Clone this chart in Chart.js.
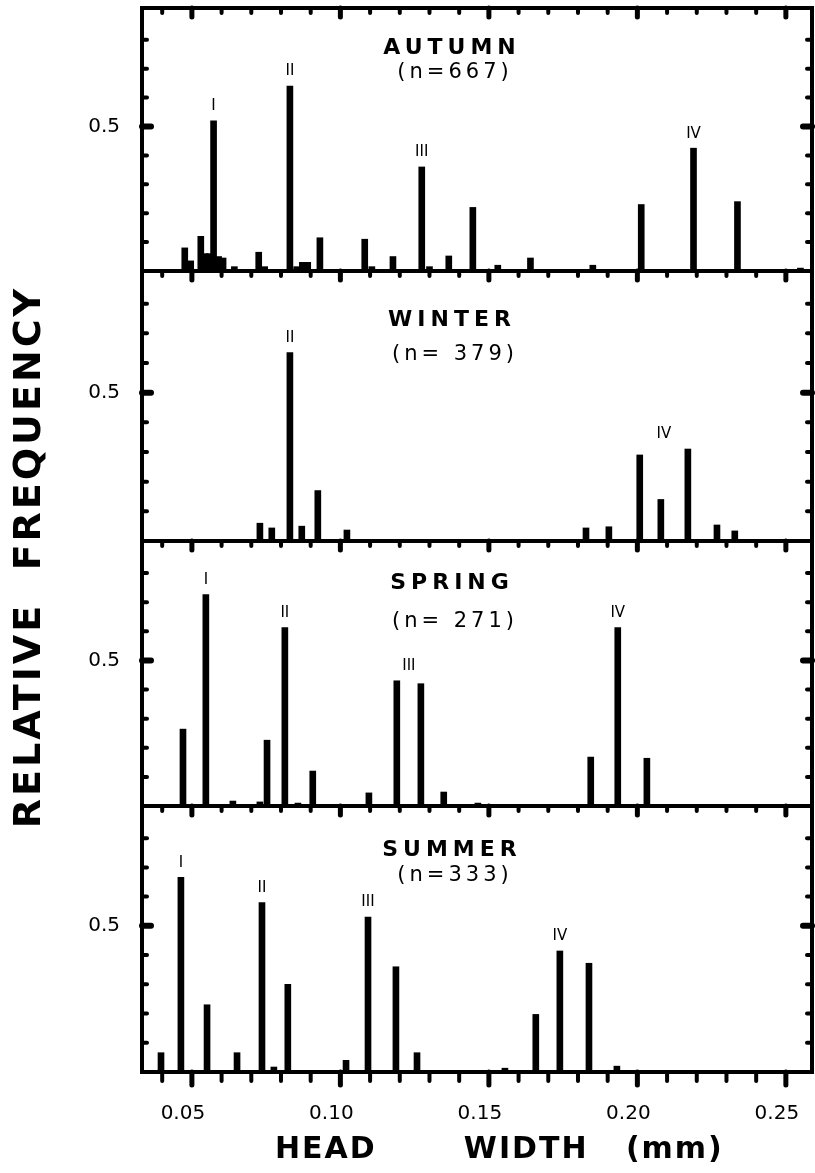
<!DOCTYPE html>
<html>
<head>
<meta charset="utf-8">
<script src="https://cdn.jsdelivr.net/npm/chart.js@4/dist/chart.umd.min.js"></script>
<style>
html,body{margin:0;padding:0;background:#fff;}
#wrap{position:relative;width:815px;height:1173px;overflow:hidden;background:#fff;}
#wrap canvas{position:absolute;left:0;top:0;}
</style>
</head>
<body>
<div id="wrap">
<canvas id="c0" width="815" height="1173"></canvas>
<canvas id="c1" width="815" height="1173"></canvas>
<canvas id="c2" width="815" height="1173"></canvas>
<canvas id="c3" width="815" height="1173"></canvas>
</div>
<script>
// ---------------- DATA ----------------
const seasonNames = ['AUTUMN', 'WINTER', 'SPRING', 'SUMMER'];
const sampleSizes = ['(n=667)', '(n= 379)', '(n= 271)', '(n=333)'];

const autumnWidths = [0.0476, 0.0496, 0.0530, 0.0545, 0.0558, 0.0573, 0.0590, 0.0605, 0.0643, 0.0725, 0.0745, 0.0830, 0.0853, 0.0872, 0.0890, 0.0931, 0.1082, 0.1106, 0.1177, 0.1274, 0.1300, 0.1365, 0.1446, 0.1530, 0.1640, 0.1850, 0.2013, 0.2189, 0.2337, 0.2549];
const autumnFreq   = [0.080, 0.035, 0.120, 0.060, 0.060, 0.520, 0.050, 0.045, 0.015, 0.065, 0.015, 0.640, 0.015, 0.030, 0.030, 0.115, 0.110, 0.015, 0.050, 0.360, 0.015, 0.052, 0.220, 0.020, 0.045, 0.020, 0.230, 0.425, 0.240, 0.010];

const winterWidths = [0.0729, 0.0769, 0.0830, 0.0870, 0.0924, 0.1022, 0.1827, 0.1904, 0.2008, 0.2079, 0.2170, 0.2268, 0.2328];
const winterFreq   = [0.060, 0.044, 0.635, 0.050, 0.170, 0.037, 0.044, 0.048, 0.290, 0.140, 0.310, 0.054, 0.034];

const springWidths = [0.0470, 0.0547, 0.0638, 0.0729, 0.0753, 0.0813, 0.0857, 0.0907, 0.1096, 0.1190, 0.1271, 0.1348, 0.1463, 0.1843, 0.1934, 0.2032];
const springFreq   = [0.264, 0.726, 0.017, 0.014, 0.226, 0.613, 0.010, 0.120, 0.045, 0.430, 0.420, 0.048, 0.010, 0.168, 0.613, 0.164];

const summerWidths = [0.0396, 0.0463, 0.0551, 0.0652, 0.0736, 0.0776, 0.0823, 0.1019, 0.1093, 0.1187, 0.1258, 0.1554, 0.1658, 0.1739, 0.1837, 0.1931];
const summerFreq   = [0.066, 0.666, 0.230, 0.066, 0.580, 0.017, 0.300, 0.040, 0.530, 0.360, 0.066, 0.013, 0.197, 0.414, 0.372, 0.020];

// instar labels and the bar widths they sit above
const autumnStages = ['I', 'II', 'III', 'IV'];
const autumnStageAt = [[0.0573], [0.0830], [0.1274], [0.2189]];
const winterStages = ['II', 'IV'];
const winterStageAt = [[0.0830], [0.2008, 0.2170]];
const springStages = ['I', 'II', 'III', 'IV'];
const springStageAt = [[0.0547], [0.0813], [0.1190, 0.1271], [0.1934]];
const summerStages = ['I', 'II', 'III', 'IV'];
const summerStageAt = [[0.0463], [0.0736], [0.1093], [0.1739]];

// axes
const xTickValues = [0.05, 0.10, 0.15, 0.20, 0.25];
const xTickLabels = ['0.05', '0.10', '0.15', '0.20', '0.25'];
const xMinorTicks = [0.04, 0.05, 0.06, 0.07, 0.08, 0.09, 0.10, 0.11, 0.12, 0.13, 0.14, 0.15, 0.16, 0.17, 0.18, 0.19, 0.20, 0.21, 0.22, 0.23, 0.24, 0.25];
const yTickValues = [0.5];
const yTickLabels = ['0.5'];
const yMinorTicks = [0.1, 0.2, 0.3, 0.4, 0.5, 0.6, 0.7, 0.8];
const xTitle = 'HEAD       WIDTH   (mm)';
const yTitle = 'RELATIVE  FREQUENCY';

// ---------------- LAYOUT ----------------
const W = 815, H = 1173;
const X_MIN = 0.0332, X_MAX = 0.2588, Y_MAX = 0.91;
const panelBoxes = [
  {top: 8,   bottom: 271,  nameY: 48,  nY: 73},
  {top: 271, bottom: 541,  nameY: 320, nY: 355},
  {top: 541, bottom: 806,  nameY: 583, nY: 622},
  {top: 806, bottom: 1072, nameY: 850, nY: 876}
];
const seasons = [
  {widths: autumnWidths, freq: autumnFreq, stages: autumnStages, stageAt: autumnStageAt},
  {widths: winterWidths, freq: winterFreq, stages: winterStages, stageAt: winterStageAt},
  {widths: springWidths, freq: springFreq, stages: springStages, stageAt: springStageAt},
  {widths: summerWidths, freq: summerFreq, stages: summerStages, stageAt: summerStageAt}
];

Chart.defaults.font.family = '"DejaVu Sans", sans-serif';
Chart.defaults.color = '#000';

function line(ctx, x1, y1, x2, y2) {
  ctx.beginPath(); ctx.moveTo(x1, y1); ctx.lineTo(x2, y2); ctx.stroke();
}

const overlay = {
  id: 'overlay',
  afterDraw(chart, args, opts) {
    const idx = opts.index;
    const s = seasons[idx];
    const box = panelBoxes[idx];
    const last = idx === seasons.length - 1;
    const {ctx, chartArea: a, scales: {x, y}} = chart;
    ctx.save();
    ctx.strokeStyle = '#000';
    ctx.fillStyle = '#000';
    // frame
    ctx.lineWidth = 4;
    ctx.lineCap = 'square';
    ctx.strokeRect(a.left, a.top, a.right - a.left, a.bottom - a.top);
    // tick marks
    ctx.lineCap = 'round';
    xMinorTicks.forEach(v => {
      const px = x.getPixelForValue(v);
      const major = xTickValues.some(m => Math.abs(m - v) < 1e-9);
      ctx.lineWidth = major ? 5 : 4;
      const len = major ? 9 : 5;
      line(ctx, px, a.top, px, a.top + len);
      if (last) line(ctx, px, a.bottom, px, a.bottom + len + 4);
    });
    yMinorTicks.forEach(v => {
      const py = y.getPixelForValue(v);
      const major = yTickValues.some(m => Math.abs(m - v) < 1e-9);
      ctx.lineWidth = major ? 6 : 4;
      const len = major ? 9 : 5;
      line(ctx, a.left, py, a.left + len, py);
      line(ctx, a.right, py, a.right - len, py);
    });
    // season title
    ctx.textAlign = 'center';
    ctx.textBaseline = 'middle';
    ctx.letterSpacing = '5px';
    ctx.font = 'bold 22px "DejaVu Sans"';
    ctx.fillText(seasonNames[idx], 452, box.nameY);
    ctx.font = '21px "DejaVu Sans"';
    ctx.letterSpacing = '4px';
    ctx.fillText(sampleSizes[idx], 455, box.nY);
    // instar labels
    ctx.letterSpacing = '0px';
    ctx.font = '15px "DejaVu Sans"';
    ctx.textBaseline = 'bottom';
    s.stages.forEach((lab, k) => {
      const ws = s.stageAt[k];
      let top = 0, sx = 0;
      ws.forEach(w => {
        const i = s.widths.indexOf(w);
        top = Math.max(top, s.freq[i]);
        sx += w;
      });
      const px = x.getPixelForValue(sx / ws.length);
      const py = y.getPixelForValue(top) - 7;
      ctx.fillText(lab, px, py);
    });
    // overall axis titles
    if (last) {
      ctx.textAlign = 'left';
      ctx.textBaseline = 'middle';
      ctx.font = 'bold 30px "DejaVu Sans"';
      ctx.letterSpacing = '2px';
      ctx.fillText(xTitle, 275, 1150);
      ctx.save();
      ctx.translate(30, 557);
      ctx.rotate(-Math.PI / 2);
      ctx.textAlign = 'center';
      ctx.font = 'bold 38px "DejaVu Sans"';
      ctx.letterSpacing = '3px';
      ctx.fillText(yTitle, 0, 0);
      ctx.restore();
    }
    ctx.restore();
  }
};

seasons.forEach((s, idx) => {
  const box = panelBoxes[idx];
  const last = idx === seasons.length - 1;
  new Chart(document.getElementById('c' + idx), {
    type: 'bar',
    data: {
      datasets: [{
        data: s.widths.map((w, i) => ({x: w, y: s.freq[i]})),
        backgroundColor: '#000',
        borderWidth: 0,
        barThickness: 6
      }]
    },
    options: {
      responsive: false,
      animation: false,
      devicePixelRatio: 1,
      layout: {padding: {top: box.top, bottom: last ? 0 : H - box.bottom, left: 0, right: 3}},
      plugins: {legend: {display: false}, tooltip: {enabled: false}, overlay: {index: idx}},
      scales: {
        x: {
          type: 'linear', min: X_MIN, max: X_MAX, offset: false, display: last,
          grid: {display: false, drawTicks: false, offset: false},
          border: {display: false},
          afterBuildTicks: sc => { sc.ticks = xTickValues.map(v => ({value: v})); },
          afterFit: sc => {
            sc.height = last ? H - box.bottom : 0;
            sc.paddingLeft = 0; sc.paddingRight = 0;
          },
          ticks: {
            callback: (v, i) => xTickLabels[i],
            labelOffset: -9, padding: 30, maxRotation: 0, autoSkip: false,
            font: {size: 20}, color: '#000'
          }
        },
        y: {
          min: 0, max: Y_MAX,
          grid: {display: false, drawTicks: false},
          border: {display: false},
          afterBuildTicks: sc => { sc.ticks = yTickValues.map(v => ({value: v})); },
          afterFit: sc => {
            sc.width = 142;
            sc.paddingTop = 0; sc.paddingBottom = 0;
          },
          ticks: {
            callback: (v, i) => yTickLabels[i],
            padding: 22, font: {size: 20}, color: '#000'
          }
        }
      }
    },
    plugins: [overlay]
  });
});
</script>
</body>
</html>
